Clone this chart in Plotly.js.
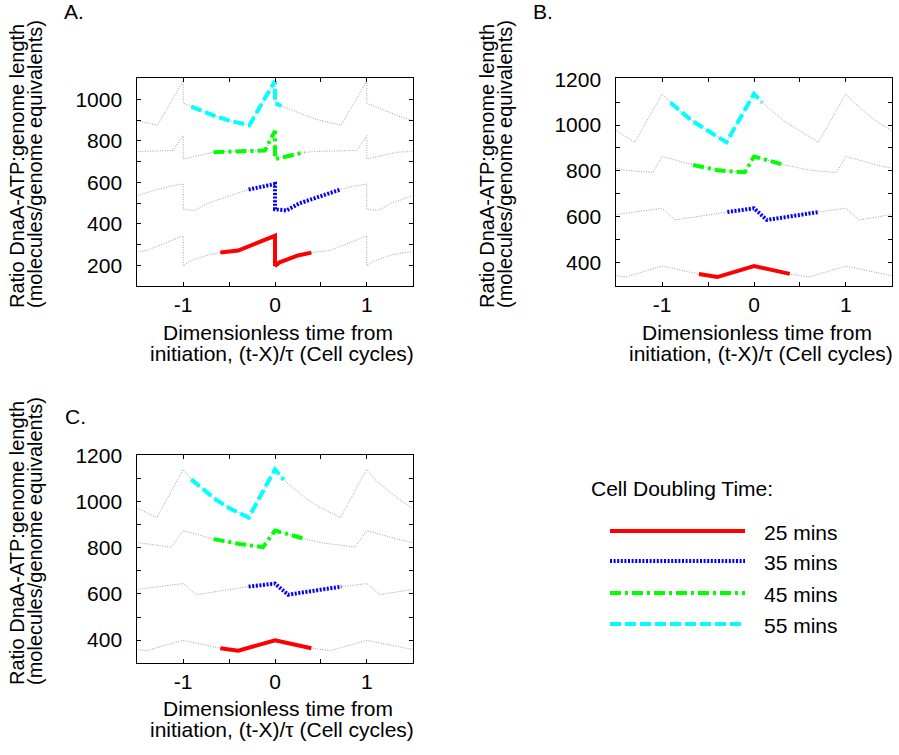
<!DOCTYPE html>
<html><head><meta charset="utf-8">
<script src="https://cdn.plot.ly/plotly-3.0.1.min.js"></script>
<style>html,body{margin:0;padding:0;background:#fff}</style>
</head><body><div id="chart" style="width:899px;height:755px"></div>
<script>
// ---------- DATA ----------
const seriesLabels = ['25 mins', '35 mins', '45 mins', '55 mins'];
const xTickVals = [-1, -0.5, 0, 0.5, 1];
const xTickText = ['-1', '', '0', '', '1'];
const yTickValsA = [200, 300, 400, 500, 600, 700, 800, 900, 1000];
const yTickTextA = ['200', '', '400', '', '600', '', '800', '', '1000'];
const yTickValsBC = [400, 500, 600, 700, 800, 900, 1000, 1100, 1200];
const yTickTextBC = ['400', '', '600', '', '800', '', '1000', '', '1200'];

// Panel A - full background curves
const A_t25 = [-1.5, -1.4, -1.0, -1.0, -0.95, -0.876, -0.75, -0.6, -0.4, 0, 0, 0.05, 0.124, 0.25, 0.4, 0.6, 1.0, 1.0, 1.05, 1.124, 1.25, 1.4, 1.5];
const A_v25 = [266, 271, 342, 197, 214, 228, 247, 261, 271, 342, 197, 214, 228, 247, 261, 271, 342, 197, 214, 228, 247, 261, 266];
const A_t35 = [-1.5, -1.287, -1.15, -1.0, -1.0, -0.876, -0.73, -0.5, -0.287, -0.15, 0, 0, 0.124, 0.27, 0.5, 0.713, 0.85, 1.0, 1.0, 1.124, 1.27, 1.5];
const A_v35 = [535, 565, 580, 592, 470, 464, 499, 535, 565, 580, 592, 470, 464, 499, 535, 565, 580, 592, 470, 464, 499, 535];
const A_t45 = [-1.5, -1.11, -1.0, -1.0, -0.876, -0.67, -0.44, -0.11, 0, 0, 0.124, 0.33, 0.56, 0.89, 1.0, 1.0, 1.124, 1.33, 1.5];
const A_v45 = [748, 753, 825, 712, 724, 745, 750, 753, 848, 712, 724, 745, 750, 753, 825, 712, 724, 745, 748];
const A_t55 = [-1.5, -1.385, -1.28, -1.0, -1.0, -0.913, -0.785, -0.64, -0.5, -0.385, -0.28, 0, 0, 0.087, 0.215, 0.36, 0.5, 0.615, 0.72, 1.0, 1.0, 1.087, 1.215, 1.36, 1.5];
const A_v55 = [897, 884, 875, 1088, 981, 965, 941, 917, 897, 884, 875, 1088, 981, 965, 941, 917, 897, 884, 875, 1088, 981, 965, 941, 917, 897];
// Panel A - highlighted segments
const A_s25t = [-0.596, -0.4, 0, 0, 0.05, 0.124, 0.25, 0.396];
const A_s25v = [262, 271, 342, 197, 214, 228, 247, 261];
const A_s35t = [-0.287, -0.15, 0, 0, 0.124, 0.27, 0.5, 0.713];
const A_s35v = [565, 580, 592, 470, 464, 499, 535, 565];
const A_s45t = [-0.67, -0.44, -0.11, 0, 0, 0.124, 0.324];
const A_s45v = [745, 750, 753, 848, 712, 724, 745];
const A_s55t = [-0.913, -0.785, -0.64, -0.5, -0.385, -0.28, 0, 0, 0.07];
const A_s55v = [965, 941, 917, 897, 884, 875, 1088, 981, 968];

// Panel B - full background curves
const B_t25 = [-1.5, -1.4, -1.0, -0.6, -0.4, 0, 0.4, 0.6, 1.0, 1.4, 1.5];
const B_v25 = [343, 337, 385, 350, 337, 385, 350, 337, 385, 350, 343];
const B_t35 = [-1.5, -1.29, -1.0, -0.86, -0.5, -0.29, 0, 0.14, 0.5, 0.71, 1.0, 1.14, 1.5];
const B_v35 = [610, 621, 637, 586, 610, 621, 637, 586, 610, 621, 637, 586, 610];
const B_t45 = [-1.5, -1.41, -1.23, -1.1, -1.0, -0.663, -0.5, -0.41, -0.23, -0.1, 0, 0.337, 0.5, 0.59, 0.77, 0.9, 1.0, 1.337, 1.5];
const B_v45 = [812, 804, 797, 794, 863, 826, 812, 804, 797, 794, 863, 826, 812, 804, 797, 794, 863, 826, 812];
const B_t55 = [-1.5, -1.4, -1.3, -1.0, -0.91, -0.8, -0.68, -0.5, -0.4, -0.3, 0, 0.09, 0.2, 0.32, 0.5, 0.6, 0.7, 1.0, 1.09, 1.2, 1.32, 1.5];
const B_v55 = [975, 950, 925, 1136, 1098, 1060, 1020, 975, 950, 925, 1136, 1098, 1060, 1020, 975, 950, 925, 1136, 1098, 1060, 1020, 975];
// Panel B - highlighted segments
const B_s25t = [-0.6, -0.4, 0, 0.39];
const B_s25v = [350, 337, 385, 351];
const B_s35t = [-0.29, 0, 0.14, 0.5, 0.71];
const B_s35v = [621, 637, 586, 610, 621];
const B_s45t = [-0.663, -0.5, -0.41, -0.23, -0.1, 0, 0.315];
const B_s45v = [826, 812, 804, 797, 794, 863, 828];
const B_s55t = [-0.91, -0.8, -0.68, -0.5, -0.4, -0.3, 0, 0.09];
const B_s55v = [1098, 1060, 1020, 975, 950, 925, 1136, 1098];

// Panel C - full background curves
const C_t25 = [-1.5, -1.4, -1.0, -0.6, -0.4, 0, 0.4, 0.6, 1.0, 1.4, 1.5];
const C_v25 = [359, 354, 399, 365, 354, 399, 365, 354, 399, 365, 359];
const C_t35 = [-1.5, -1.287, -1.0, -0.858, -0.5, -0.287, 0, 0.142, 0.5, 0.713, 1.0, 1.142, 1.5];
const C_v35 = [620, 632, 645, 597, 620, 632, 645, 597, 620, 632, 645, 597, 620];
const C_t45 = [-1.5, -1.385, -1.13, -1.0, -0.67, -0.5, -0.385, -0.13, 0, 0.33, 0.5, 0.615, 0.87, 1.0, 1.33, 1.5];
const C_v45 = [823, 817, 803, 875, 838, 823, 817, 803, 875, 838, 823, 817, 803, 875, 838, 823];
const C_t55 = [-1.5, -1.385, -1.287, -1.0, -0.913, -0.785, -0.64, -0.495, -0.385, -0.287, 0, 0.087, 0.215, 0.36, 0.505, 0.615, 0.713, 1.0, 1.087, 1.215, 1.36, 1.5];
const C_v55 = [972, 950, 931, 1141, 1097, 1054, 1008, 972, 950, 931, 1141, 1097, 1054, 1008, 972, 950, 931, 1141, 1097, 1054, 1008, 972];
// Panel C - highlighted segments
const C_s25t = [-0.596, -0.4, 0, 0.396];
const C_s25v = [365, 354, 399, 365];
const C_s35t = [-0.287, 0, 0.142, 0.5, 0.724];
const C_s35v = [632, 645, 597, 620, 632];
const C_s45t = [-0.669, -0.5, -0.385, -0.131, 0, 0.324];
const C_s45v = [838, 823, 817, 803, 875, 839];
const C_s55t = [-0.913, -0.785, -0.64, -0.495, -0.385, -0.287, 0, 0.095];
const C_s55v = [1097, 1054, 1008, 972, 950, 931, 1141, 1095];

// ---------- STYLE ----------
const FONT = 'Liberation Sans, Arial, Helvetica, sans-serif';
const FS = 21;
const colors = ['#ff0000', '#0000ff', '#00ff00', '#00ffff'];
const dashes = ['solid', '2px,1.6px', '11px,4px,3px,4px', '11px,4px'];
const W = 899, H = 755;
const px = v => v / W;
const py = v => 1 - v / H;

const panels = [
  {xa: 'x', ya: 'y', bg: [[A_t25, A_v25], [A_t35, A_v35], [A_t45, A_v45], [A_t55, A_v55]],
   hl: [[A_s25t, A_s25v], [A_s35t, A_s35v], [A_s45t, A_s45v], [A_s55t, A_s55v]]},
  {xa: 'x2', ya: 'y2', bg: [[B_t25, B_v25], [B_t35, B_v35], [B_t45, B_v45], [B_t55, B_v55]],
   hl: [[B_s25t, B_s25v], [B_s35t, B_s35v], [B_s45t, B_s45v], [B_s55t, B_s55v]]},
  {xa: 'x3', ya: 'y3', bg: [[C_t25, C_v25], [C_t35, C_v35], [C_t45, C_v45], [C_t55, C_v55]],
   hl: [[C_s25t, C_s25v], [C_s35t, C_s35v], [C_s45t, C_s45v], [C_s55t, C_s55v]]}
];

const traces = [];
panels.forEach(p => {
  p.bg.forEach((s, i) => traces.push({
    x: s[0], y: s[1], xaxis: p.xa, yaxis: p.ya, mode: 'lines', showlegend: false, hoverinfo: 'skip',
    line: {color: '#a0a0a0', width: 1, dash: '1px,1.5px'}
  }));
});
panels.forEach(p => {
  p.hl.forEach((s, i) => traces.push({
    x: s[0], y: s[1], xaxis: p.xa, yaxis: p.ya, mode: 'lines', showlegend: false, name: seriesLabels[i],
    line: {color: colors[i], width: 4, dash: dashes[i]}
  }));
});

function xAxis(dom, anchor) {
  return {domain: dom, anchor: anchor, range: [-1.5, 1.5], tickmode: 'array', tickvals: xTickVals, ticktext: xTickText,
    ticks: 'inside', ticklen: 4, tickcolor: '#000', showline: true, linecolor: '#000', linewidth: 1, mirror: 'ticks',
    showgrid: false, zeroline: false, ticklabelstandoff: 0, tickfont: {family: FONT, size: FS, color: '#000'}};
}
function yAxis(dom, anchor, range, tv, tt) {
  return {domain: dom, anchor: anchor, range: range, tickmode: 'array', tickvals: tv, ticktext: tt,
    ticks: 'inside', ticklen: 4, tickcolor: '#000', showline: true, linecolor: '#000', linewidth: 1, mirror: 'ticks',
    showgrid: false, zeroline: false, ticklabelstandoff: 10, tickfont: {family: FONT, size: FS, color: '#000'}};
}

const xDomL = [px(137.3), px(412.7)];
const xDomR = [px(616.3), px(891.7)];
const yDomTop = [py(286), py(78.3)];
const yDomBot = [py(662.7), py(454.7)];

const ann = [];
function txt(text, x, y, xanchor, angle, size) {
  ann.push({text: text, x: px(x), y: py(y), xref: 'paper', yref: 'paper', xanchor: xanchor || 'center', yanchor: 'middle',
    showarrow: false, textangle: angle || 0, font: {family: FONT, size: size || FS, color: '#000'}});
}
const yTitle1 = 'Ratio DnaA-ATP:genome length';
const yTitle2 = '(molecules/genome equivalents)';
const xTitle1 = 'Dimensionless time from';
const xTitle2 = 'initiation, (t-X)/τ (Cell cycles)';

txt('A.', 62, 12, 'left');
txt('B.', 531, 12, 'left');
txt('C.', 63, 416, 'left');
[[0, 0], [470, 0], [0, 377]].forEach(o => {
  txt(yTitle1, 17 + o[0], 166 + o[1], 'center', -90, 20);
  txt(yTitle2, 35 + o[0], 164 + o[1], 'center', -90, 20);
});
[[0, 0], [479, 0], [0, 376.7]].forEach(o => {
  txt(xTitle1, 278 + o[0], 332 + o[1]);
  txt(xTitle2, 282 + o[0], 353 + o[1]);
});
txt('Cell Doubling Time:', 589, 488, 'left');
const legY = [531, 561, 593, 624];
const shapes = [];
seriesLabels.forEach((lab, i) => {
  shapes.push({type: 'line', xref: 'paper', yref: 'paper', x0: px(610), x1: px(745), y0: py(legY[i]), y1: py(legY[i]),
    line: {color: colors[i], width: 4, dash: dashes[i]}});
  txt(lab, 762, legY[i] + 1, 'left');
});

const layout = {
  width: W, height: H, margin: {l: 0, r: 0, t: 0, b: 0}, paper_bgcolor: '#fff', plot_bgcolor: '#fff',
  showlegend: false, font: {family: FONT, size: FS, color: '#000'},
  xaxis: xAxis(xDomL, 'y'), yaxis: yAxis(yDomTop, 'x', [100, 1101], yTickValsA, yTickTextA),
  xaxis2: xAxis(xDomR, 'y2'), yaxis2: yAxis(yDomTop, 'x2', [298, 1204], yTickValsBC, yTickTextBC),
  xaxis3: xAxis(xDomL, 'y3'), yaxis3: yAxis(yDomBot, 'x3', [302, 1204], yTickValsBC, yTickTextBC),
  annotations: ann, shapes: shapes
};
Plotly.newPlot('chart', traces, layout, {displayModeBar: false, staticPlot: true});
</script></body></html>
